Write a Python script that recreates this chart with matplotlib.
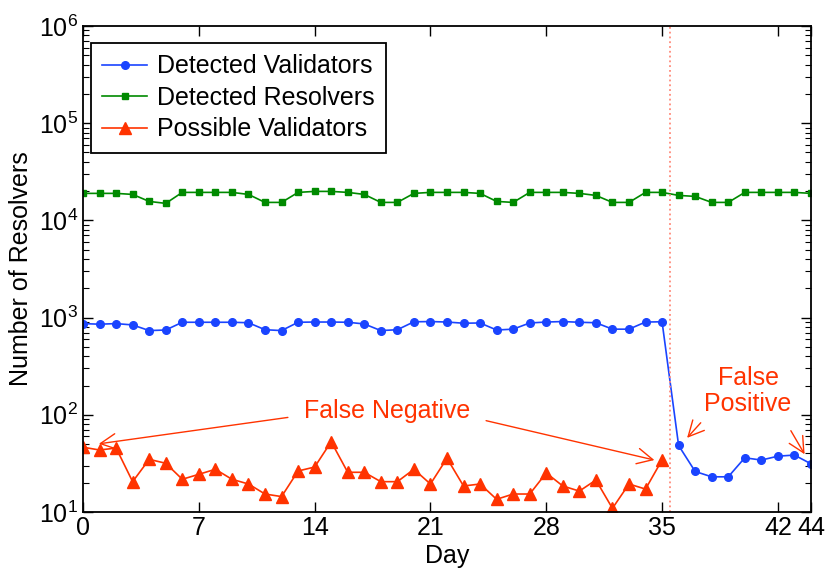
import matplotlib
matplotlib.use('Agg')
import matplotlib.pyplot as plt
import numpy as np
from matplotlib.ticker import FixedLocator, LogLocator, FuncFormatter, NullFormatter

plt.rcParams['font.family'] = ['Liberation Sans', 'DejaVu Sans']
plt.rcParams['mathtext.fontset'] = 'custom'
plt.rcParams['mathtext.rm'] = 'Liberation Sans'
plt.rcParams['mathtext.it'] = 'Liberation Sans:italic'

# values
days = np.arange(45)
detected_validators = [867, 855, 867, 840, 735, 745, 895, 895, 895, 895, 885,
                       750, 735, 895, 900, 900, 895, 860, 735, 750, 905, 910,
                       900, 875, 880, 745, 760, 880, 900, 910, 895, 885, 760,
                       760, 900, 905, 48.3, 26.1, 23.0, 23.0, 36.1, 34.2, 37.5,
                       38.5, 31.3]
detected_resolvers = [18960, 18960, 18960, 18500, 15670, 14960, 19410, 19410,
                      19410, 19410, 18500, 15310, 15310, 19410, 19870, 19870,
                      19410, 18500, 15310, 15310, 18960, 19410, 19410, 19410,
                      18960, 15670, 15310, 19410, 19410, 19410, 18960, 18070,
                      15310, 15310, 19410, 19410, 18070, 17650, 15310, 15310,
                      19410, 19410, 19410, 19410, 18960]
possible_days = np.arange(36)
possible_validators = [46.4, 43.4, 45.5, 20.5, 34.8, 31.7, 21.7, 24.4, 27.5,
                       21.7, 19.4, 15.3, 14.4, 26.4, 29.0, 52.8, 25.6, 25.6,
                       20.5, 20.5, 27.5, 19.4, 35.7, 18.5, 19.4, 13.5, 15.3,
                       15.3, 25.2, 18.5, 16.4, 21.3, 10.9, 19.4, 17.2, 34.3]
xticks = [0, 7, 14, 21, 28, 35, 42, 44]
change_day = 35.5

blue = '#1a44ff'
green = '#008a00'
red = '#ff3300'
fs = 18

fig = plt.figure(figsize=(8.26, 5.70), dpi=100)
ax = fig.add_axes([0.1005, 0.1018, 0.8813, 0.8526])

ax.plot(days, detected_validators, color=blue, marker='o', markersize=5.5,
        linewidth=1.2, label='Detected Validators')
ax.plot(days, detected_resolvers, color=green, marker='s', markersize=5,
        linewidth=1.2, label='Detected Resolvers')
ax.plot(possible_days, possible_validators, color=red, marker='^',
        markersize=9, linewidth=1.2, label='Possible Validators')
ax.axvline(change_day, color='#ff8a7a', linestyle=':', linewidth=1.3)

ax.set_yscale('log')
ax.set_xlim(0, 44)
ax.set_ylim(1e1, 1e6)
ax.xaxis.set_major_locator(FixedLocator(xticks))
ax.yaxis.set_major_locator(LogLocator(base=10, numticks=10))
ax.yaxis.set_minor_locator(LogLocator(base=10, subs=np.arange(2, 10), numticks=10))
ax.yaxis.set_minor_formatter(NullFormatter())
ax.yaxis.set_major_formatter(FuncFormatter(lambda v, p: r'$\mathregular{10^{%d}}$' % round(np.log10(v))))
ax.tick_params(which='both', direction='in', top=True, right=True, labelsize=fs)
ax.tick_params(which='major', length=7, width=1)
ax.tick_params(which='minor', length=4, width=0.8)
ax.tick_params(axis='x', pad=3)
for s in ax.spines.values():
    s.set_linewidth(1.3)

ax.set_xlabel('Day', fontsize=fs, labelpad=3)
ax.set_ylabel('Number of Resolvers', fontsize=fs, labelpad=4)

leg = ax.legend(loc='upper left', bbox_to_anchor=(0.011, 0.965),
                fontsize=fs, numpoints=1, fancybox=False,
                edgecolor='black', framealpha=1, borderaxespad=0,
                handlelength=1.8, handletextpad=0.4, labelspacing=0.3,
                borderpad=0.45)
leg.get_frame().set_linewidth(1.3)

arrow = dict(arrowstyle='->', color=red, linewidth=1, mutation_scale=28)
ax.text(18.4, 109, 'False Negative', color=red, fontsize=fs,
        ha='center', va='center')
ax.annotate('', xy=(0.79, 49.8), xytext=(12.55, 94.8), arrowprops=arrow)
ax.annotate('', xy=(34.7, 33.7), xytext=(24.2, 88.3), arrowprops=arrow)
ax.text(40.2, 176, 'False\nPositive', color=red, fontsize=fs,
        ha='center', va='center', linespacing=1.1)
ax.annotate('', xy=(36.4, 55.1), xytext=(37.45, 86.9), arrowprops=arrow)
ax.annotate('', xy=(43.7, 37.1), xytext=(42.7, 72.6), arrowprops=arrow)

fig.savefig('out.png', dpi=100)
